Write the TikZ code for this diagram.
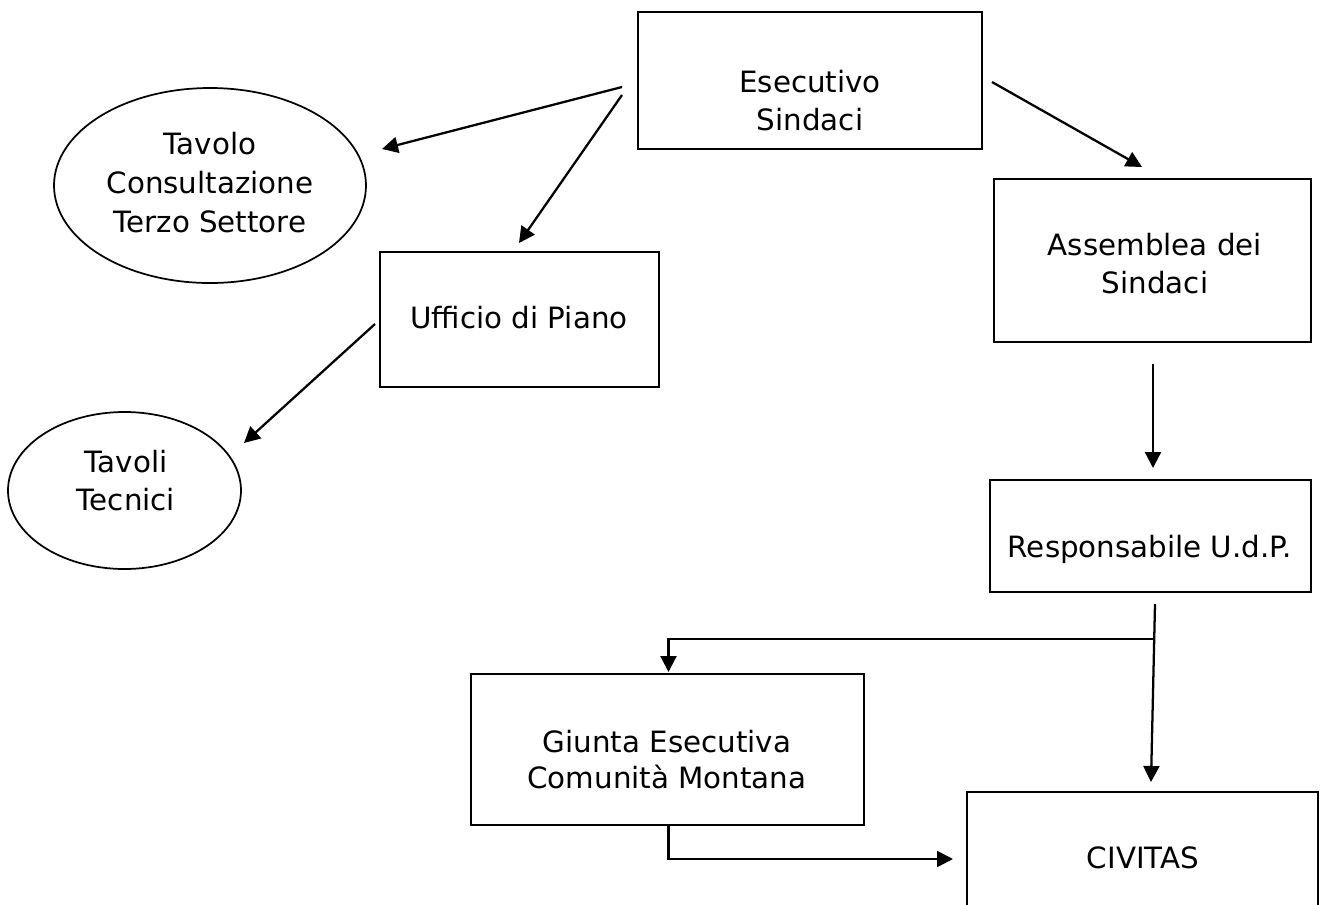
\documentclass[tikz,border=0pt]{standalone}
\usepackage{fontspec}
\setmainfont{DejaVu Sans}
\usetikzlibrary{arrows.meta,fit,shapes.geometric}
\begin{document}
\begin{tikzpicture}[x=0.75pt,y=-0.75pt,
  box/.style={draw,line width=2pt,inner sep=0pt},
  oval/.style={draw,ellipse,line width=1.3pt,inner sep=0pt},
  txt/.style={anchor=base,align=center,inner sep=0pt,font=\fontsize{22}{28.5}\selectfont},
  conn/.style={line width=1.7pt,-{Triangle[length=12pt,width=12pt]}}]
\useasboundingbox (0,0) rectangle (1322,904);
% boxes
\node[box,fit={(638,12)(982,149)}] (exec) {};
\node[box,fit={(380,252)(659,387)}] (uff) {};
\node[box,fit={(994,179)(1311,342)}] (ass) {};
\node[box,fit={(990,480)(1311,592)}] (resp) {};
\node[box,fit={(471,674)(864,825)}] (giunta) {};
\node[box,fit={(967,792)(1318,930)}] (civ) {};
% ellipses
\node[oval,minimum width=234pt,minimum height=146.25pt] (tavolo) at (210,185.5) {};
\node[oval,minimum width=174.75pt,minimum height=117.75pt] (tavoli) at (124.5,490.5) {};
% texts (base anchor = baseline of last line)
\node[txt] (exec-t) at (810,130) {Esecutivo\\Sindaci};
\node[txt,font=\fontsize{22}{29}\selectfont] (tavolo-t) at (210,232) {Tavolo\\Consultazione\\Terzo Settore};
\node[txt] (uff-t) at (519,328) {Ufficio di Piano};
\node[txt,font=\fontsize{22}{28}\selectfont] (tavoli-t) at (126,510) {Tavoli\\Tecnici};
\node[txt] (ass-t) at (1155,293) {Assemblea dei\\Sindaci};
\node[txt] (resp-t) at (1150,557) {Responsabile U.d.P.};
\node[txt,font=\fontsize{22}{27}\selectfont] (giunta-t) at (667,788) {Giunta Esecutiva\\Comunità Montana};
\node[txt] (civ-t) at (1143,868) {CIVITAS};
% connector end points
\coordinate (a1s) at (622,87);  \coordinate (a1e) at (382,149);
\coordinate (a2s) at (622,95);  \coordinate (a2e) at (519,243);
\coordinate (a3s) at (375,324); \coordinate (a3e) at (244,443);
\coordinate (a4s) at (992,82);  \coordinate (a4e) at (1142,167);
\coordinate (a5s) at (1153,364); \coordinate (a5e) at (1153,468);
\coordinate (a6s) at (1155,604); \coordinate (a6e) at (1151,782);
\coordinate (br) at (1154,639); \coordinate (brL) at (668.5,639); \coordinate (a7e) at (668.5,672);
\coordinate (a8s) at (668.5,825); \coordinate (a8m) at (668.5,859); \coordinate (a8e) at (953,859);
% connectors
\draw[conn] (a1s) -- (a1e);
\draw[conn] (a2s) -- (a2e);
\draw[conn] (a3s) -- (a3e);
\draw[conn] (a4s) -- (a4e);
\draw[conn] (a5s) -- (a5e);
\draw[conn] (a6s) -- (a6e);
\draw[conn] (br) -- (brL) -- (a7e);
\draw[conn] (a8s) -- (a8m) -- (a8e);
\end{tikzpicture}
\end{document}
